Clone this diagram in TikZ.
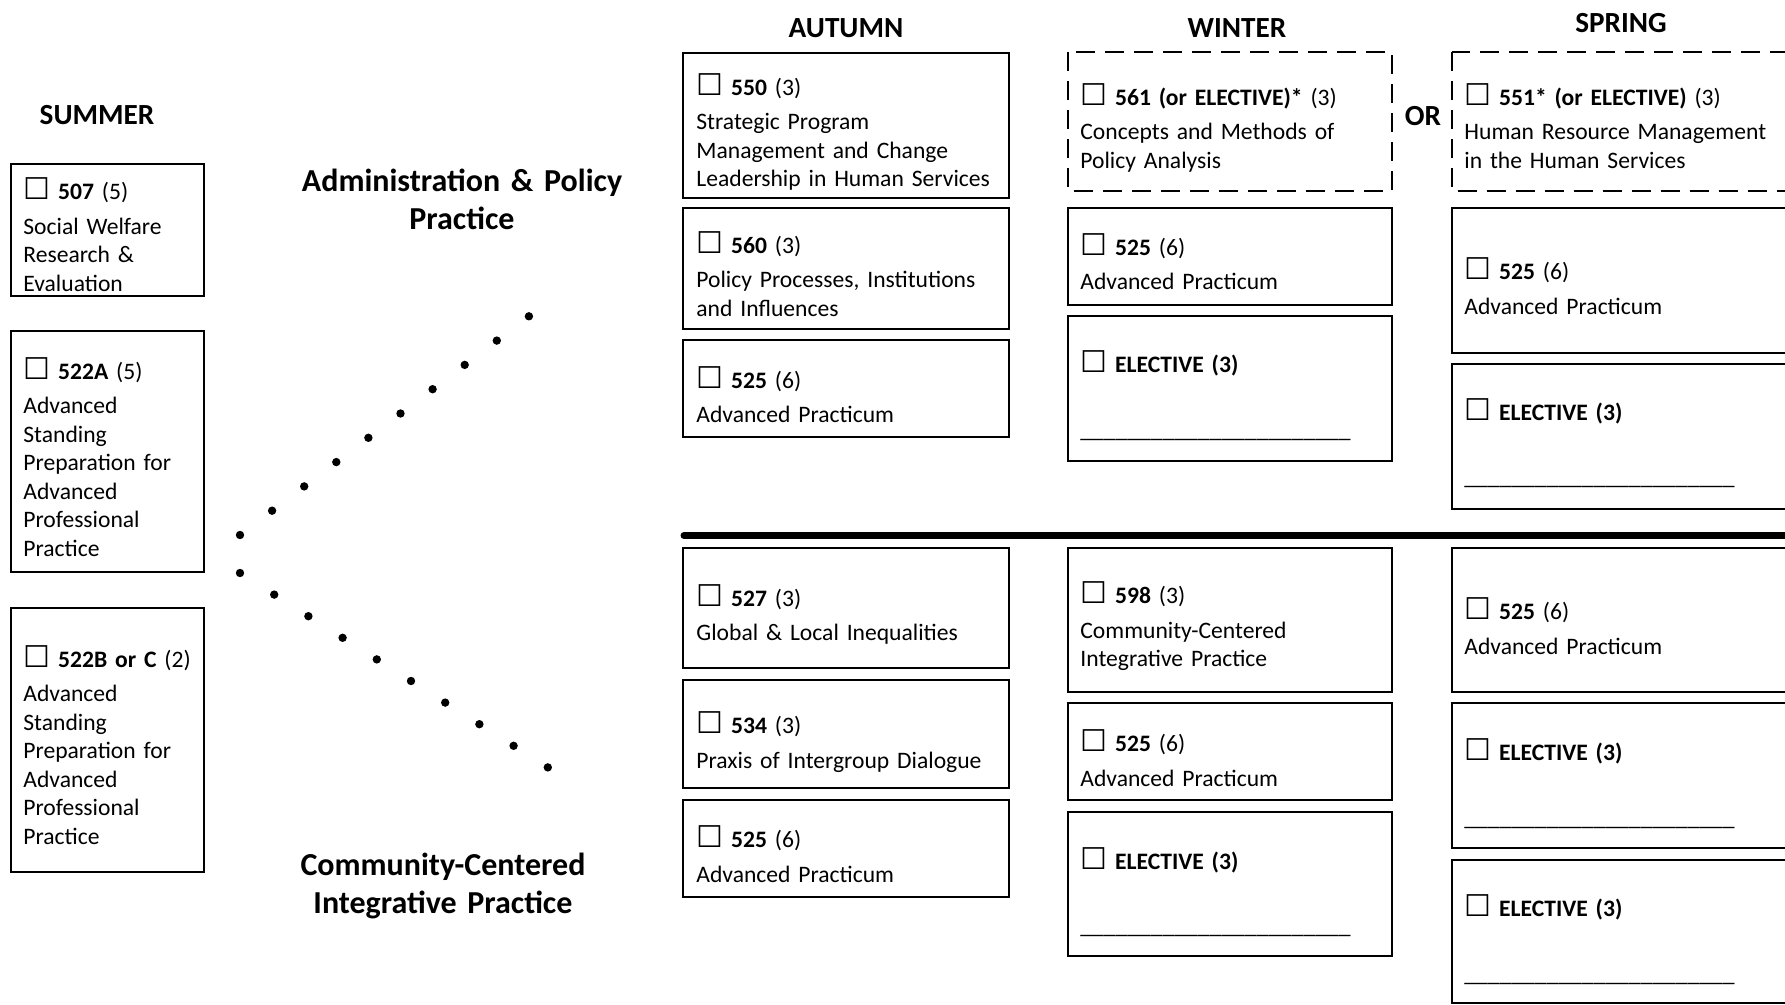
\documentclass[tikz,border=0pt]{standalone}
\usepackage{fontspec}
\setmainfont{Carlito}
\newfontfamily\symfont{DejaVu Sans}
\usepackage{tikz}
\tikzstyle{course} = [line width=1pt]
\tikzstyle{option} = [line width=1pt, dash pattern=on 9.5pt off 5pt]
\tikzstyle{entry} = [anchor=base west, inner sep=0pt, align=left, text width=170pt, font=\fontsize{11.8}{14.25}\selectfont]
\tikzstyle{season} = [inner sep=0pt, font=\fontsize{14.6}{17}\selectfont\bfseries]
\tikzstyle{track} = [anchor=base, inner sep=0pt, align=center, text width=200pt, font=\fontsize{16}{19}\selectfont\bfseries]
\newcommand{\chk}{{\symfont\fontsize{15}{14}\selectfont ☐}}
\newcommand{\blankline}{\_\_\_\_\_\_\_\_\_\_\_\_\_\_\_\_\_\_\_\_\_\_\_}

\begin{document}
\begin{tikzpicture}[x=0.5pt,y=-0.5pt]
\useasboundingbox (0,0) rectangle (1785,1005);
\clip (0,0) rectangle (1785,1005);

% Headings
\node[season] (summer) at (97,115.5) {SUMMER};
\node[season] (autumn) at (846,28.5) {AUTUMN};
\node[season] (winter) at (1237,28.5) {WINTER};
\node[season] (spring) at (1621,23) {SPRING};
\node[season] (or) at (1423,116) {OR};

% Tracks:
\node[track] (admin) at (462,192) {Administration \& Policy\\Practice};
\node[track] (ccip) at (443,875) {Community-Centered\\Integrative Practice};

% Dotted branches
\foreach \i in {0,...,9} {
  \fill (240+32.1*\i, 535-24.3*\i) circle (2.1pt);
  \fill (240+34.2*\i, 573+21.6*\i) circle (2.1pt);
}

% Divider between the two tracks
\draw[line width=3.5pt, line cap=round] (684,535.5) -- (1800,535.5);

% Summer column
\draw[course] (11,164) rectangle (204,296);
\node[entry] (s507) at (23,200) {\chk\ \textbf{507} (5)\\[3pt]Social Welfare\\Research \&\\Evaluation};
\draw[course] (11,331) rectangle (204,572);
\node[entry] (s522a) at (23,379.5) {\chk\ \textbf{522A} (5)\\[3pt]Advanced\\Standing\\Preparation for\\Advanced\\Professional\\Practice};
\draw[course] (11,608) rectangle (204,872);
\node[entry] (s522b) at (23,667.5) {\chk\ \textbf{522B or C} (2)\\[3pt]Advanced\\Standing\\Preparation for\\Advanced\\Professional\\Practice};

% Autumn column
\draw[course] (683,53) rectangle (1009,198);
\node[entry] (a550) at (696,95.5) {\chk\ \textbf{550} (3)\\[3pt]Strategic Program\\Management and Change\\Leadership in Human Services};
\draw[course] (683,208) rectangle (1009,329);
\node[entry] (a560) at (696,253.5) {\chk\ \textbf{560} (3)\\[3pt]Policy Processes, Institutions\\and Influences};
\draw[course] (683,340) rectangle (1009,437);
\node[entry] (a525) at (696,388.5) {\chk\ \textbf{525} (6)\\[3pt]Advanced Practicum};
\draw[course] (683,548) rectangle (1009,668);
\node[entry] (a527) at (696,606.5) {\chk\ \textbf{527} (3)\\[3pt]Global \& Local Inequalities};
\draw[course] (683,680) rectangle (1009,788);
\node[entry] (a534) at (696,733.5) {\chk\ \textbf{534} (3)\\[3pt]Praxis of Intergroup Dialogue};
\draw[course] (683,800) rectangle (1009,897);
\node[entry] (a525b) at (696,847.5) {\chk\ \textbf{525} (6)\\[3pt]Advanced Practicum};

% Winter column
\draw[option] (1068,52) rectangle (1392,191);
\node[entry] (w561) at (1080,105.5) {\chk\ \textbf{561 (or ELECTIVE)*} (3)\\[3pt]Concepts and Methods of\\Policy Analysis};
\draw[course] (1068,208) rectangle (1392,305);
\node[entry] (w525) at (1080,255.5) {\chk\ \textbf{525} (6)\\[3pt]Advanced Practicum};
\draw[course] (1068,316.5) rectangle (1392,461);
\node[entry] (welect) at (1080,373) {\chk\ \textbf{ELECTIVE (3)}\\[18pt]\blankline};
\draw[course] (1068,548) rectangle (1392,692);
\node[entry] (w598) at (1080,604) {\chk\ \textbf{598} (3)\\[3pt]Community-Centered\\Integrative Practice};
\draw[course] (1068,703.5) rectangle (1392,800);
\node[entry] (w525b) at (1080,751.5) {\chk\ \textbf{525} (6)\\[3pt]Advanced Practicum};
\draw[course] (1068,812) rectangle (1392,956);
\node[entry] (welectb) at (1080,869) {\chk\ \textbf{ELECTIVE (3)}\\[18pt]\blankline};

% Spring column
\draw[option] (1451.5,52) rectangle (1800,191);
\node[entry] (p551) at (1464,105.5) {\chk\ \textbf{551* (or ELECTIVE)} (3)\\[3pt]Human Resource Management\\in the Human Services};
\draw[course] (1451.5,208) rectangle (1800,353);
\node[entry] (p525) at (1464,280) {\chk\ \textbf{525} (6)\\[3pt]Advanced Practicum};
\draw[course] (1451.5,364) rectangle (1800,509);
\node[entry] (pelect) at (1464,420.5) {\chk\ \textbf{ELECTIVE (3)}\\[18pt]\blankline};
\draw[course] (1451.5,548) rectangle (1800,692);
\node[entry] (p525b) at (1464,620) {\chk\ \textbf{525} (6)\\[3pt]Advanced Practicum};
\draw[course] (1451.5,703.5) rectangle (1800,848);
\node[entry] (pelectb) at (1464,760.5) {\chk\ \textbf{ELECTIVE (3)}\\[18pt]\blankline};
\draw[course] (1451.5,859.5) rectangle (1800,1003);
\node[entry] (pelectc) at (1464,916.5) {\chk\ \textbf{ELECTIVE (3)}\\[18pt]\blankline};

\end{tikzpicture}
\end{document}
